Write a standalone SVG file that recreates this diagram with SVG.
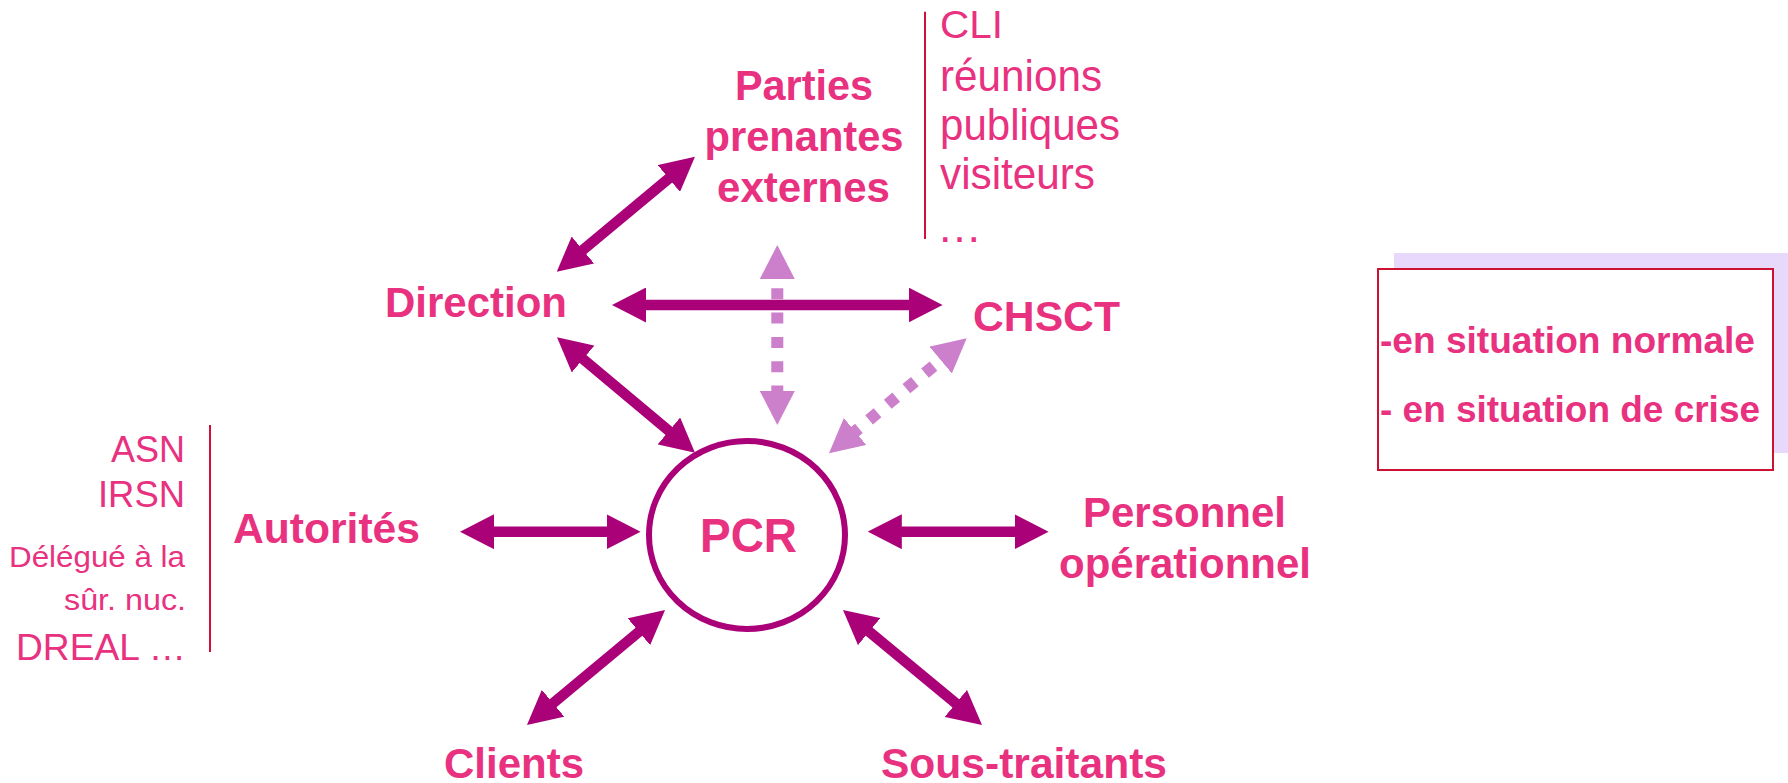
<svg xmlns="http://www.w3.org/2000/svg" width="1788" height="783" viewBox="0 0 1788 783">
<style>
text{font-family:"Liberation Sans",Arial,sans-serif;fill:#E8317F}
.b{font-weight:bold;font-size:43px}
.r{font-size:45px}
.s{font-size:37.5px}
.t{font-size:30px}
.solid{stroke:#AA0078;stroke-width:10.5;fill:none;marker-start:url(#ah);marker-end:url(#ah)}
.dot{stroke:#CC80CC;stroke-width:12;fill:none;stroke-dasharray:11 13.3;stroke-dashoffset:11;marker-start:url(#al);marker-end:url(#al)}
.sep{stroke:#D0103A;stroke-width:2}
</style>
<defs>
<marker id="ah" markerUnits="userSpaceOnUse" viewBox="0 0 34 35" refX="4" refY="17.5" markerWidth="34" markerHeight="35" orient="auto-start-reverse"><path d="M0,0 L34,17.5 L0,35 z" fill="#AA0078"/></marker>
<marker id="al" markerUnits="userSpaceOnUse" viewBox="0 0 34 35" refX="4" refY="17.5" markerWidth="34" markerHeight="35" orient="auto-start-reverse"><path d="M0,0 L34,17.5 L0,35 z" fill="#CC80CC"/></marker>
</defs>

<g id="connectors">
<line class="dot" x1="777.3" y1="275" x2="777.3" y2="395"/>
<line class="dot" x1="943.7" y1="357.5" x2="852" y2="434.1"/>
<line class="solid" x1="579.8" y1="252.5" x2="671.9" y2="175.9"/>
<line class="solid" x1="642" y1="305" x2="912.6" y2="305"/>
<line class="solid" x1="580" y1="356.5" x2="672" y2="433.5"/>
<line class="solid" x1="490" y1="531.7" x2="610.6" y2="531.7"/>
<line class="solid" x1="897.8" y1="531.7" x2="1018.6" y2="531.7"/>
<line class="solid" x1="642" y1="629.2" x2="550" y2="705.8"/>
<line class="solid" x1="866.1" y1="629.1" x2="958.9" y2="705.9"/>
</g>

<g id="pcr">
<ellipse cx="747" cy="535" rx="98" ry="94" fill="#FFFFFF" stroke="#AA0078" stroke-width="6"/>
<text class="b" x="700" y="551.7" style="font-size:48px" textLength="97" lengthAdjust="spacingAndGlyphs">PCR</text>
</g>

<g id="parties">
<text class="b" x="735" y="100" textLength="138" lengthAdjust="spacingAndGlyphs">Parties</text>
<text class="b" x="704.5" y="151" textLength="199" lengthAdjust="spacingAndGlyphs">prenantes</text>
<text class="b" x="717" y="202" textLength="173" lengthAdjust="spacingAndGlyphs">externes</text>
</g>

<g id="parties-list">
<line class="sep" x1="925" y1="11.7" x2="925" y2="239"/>
<text class="r" x="940" y="37.5" style="font-size:39px" textLength="63" lengthAdjust="spacingAndGlyphs">CLI</text>
<text class="r" x="940" y="90.7" textLength="162" lengthAdjust="spacingAndGlyphs">réunions</text>
<text class="r" x="940" y="140" textLength="180" lengthAdjust="spacingAndGlyphs">publiques</text>
<text class="r" x="940" y="188.5" textLength="155" lengthAdjust="spacingAndGlyphs">visiteurs</text>
<text class="r" x="937" y="242">…</text>
</g>

<g id="direction">
<text class="b" x="385" y="316.7" textLength="182" lengthAdjust="spacingAndGlyphs">Direction</text>
</g>

<g id="chsct">
<text class="b" x="973" y="331" textLength="147" lengthAdjust="spacingAndGlyphs">CHSCT</text>
</g>

<g id="autorites">
<text class="b" x="233" y="543" textLength="187" lengthAdjust="spacingAndGlyphs">Autorités</text>
</g>

<g id="autorites-list">
<line class="sep" x1="210" y1="425" x2="210" y2="652"/>
<text class="s" x="111" y="462.3" textLength="74" lengthAdjust="spacingAndGlyphs">ASN</text>
<text class="s" x="98" y="507.3" textLength="87" lengthAdjust="spacingAndGlyphs">IRSN</text>
<text class="t" x="9" y="566.7" textLength="176" lengthAdjust="spacingAndGlyphs">Délégué à la</text>
<text class="t" x="64" y="610" textLength="122" lengthAdjust="spacingAndGlyphs">sûr. nuc.</text>
<text class="s" x="16" y="660" textLength="170" lengthAdjust="spacingAndGlyphs">DREAL …</text>
</g>

<g id="personnel">
<text class="b" x="1083" y="527" textLength="203" lengthAdjust="spacingAndGlyphs">Personnel</text>
<text class="b" x="1059" y="578" textLength="252" lengthAdjust="spacingAndGlyphs">opérationnel</text>
</g>

<g id="clients">
<text class="b" x="444" y="778" textLength="140" lengthAdjust="spacingAndGlyphs">Clients</text>
</g>

<g id="sous-traitants">
<text class="b" x="881" y="778" textLength="286" lengthAdjust="spacingAndGlyphs">Sous-traitants</text>
</g>

<g id="situation-box">
<rect x="1394" y="253" width="396" height="200" fill="#E8D8FC"/>
<rect x="1378" y="269" width="395" height="201" fill="#FFFFFF" stroke="#CC1133" stroke-width="2"/>
<text x="1380" y="353.3" style="font-weight:bold;font-size:36px" textLength="375" lengthAdjust="spacingAndGlyphs">-en situation normale</text>
<text x="1380" y="421.7" style="font-weight:bold;font-size:36px" textLength="380" lengthAdjust="spacingAndGlyphs">- en situation de crise</text>
</g>
</svg>
